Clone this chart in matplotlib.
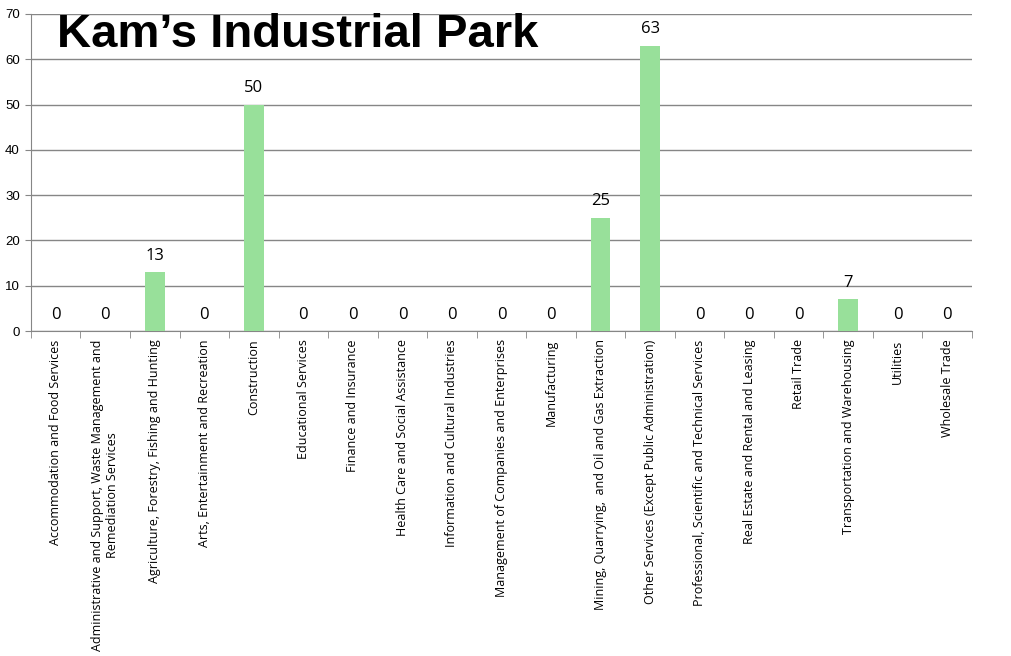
import numpy as np
import matplotlib.pyplot as plt


# Кількість підприємств за галузями
categories = [
    "Accommodation and Food Services",
    "Administrative and Support, Waste Management and\nRemediation Services",
    "Agriculture, Forestry, Fishing and Hunting",
    "Arts, Entertainment and Recreation",
    "Construction",
    "Educational Services",
    "Finance and Insurance",
    "Health Care and Social Assistance",
    "Information and Cultural Industries",
    "Management of Companies and Enterprises",
    "Manufacturing",
    "Mining, Quarrying,  and Oil and Gas Extraction",
    "Other Services (Except Public Administration)",
    "Professional, Scientific and Technical Services",
    "Real Estate and Rental and Leasing",
    "Retail Trade",
    "Transportation and Warehousing",
    "Utilities",
    "Wholesale Trade",
]
values = [0, 0, 13, 0, 50, 0, 0, 0, 0, 0, 0, 25, 63, 0, 0, 0, 7, 0, 0]
y_ticks = [0, 10, 20, 30, 40, 50, 60, 70]

grid_col = '#868686'
bar_col = '#98E09A'

fig = plt.figure(figsize=(10.12, 6.56), dpi=100)
ax = fig.add_axes([0.0306, 0.4954, 0.9299, 0.4833])

x = np.arange(len(categories))
ax.bar(x, values, width=0.4, color=bar_col, zorder=3)

for xi, v in zip(x, values):
    ax.annotate(str(v), (xi, v), xytext=(0, 6), textcoords='offset points',
                ha='center', va='bottom', fontsize=12, family='Open Sans')

ax.set_xlim(-0.5, len(categories) - 0.5)
ax.set_ylim(0, 70)
ax.set_yticks(y_ticks)
ax.set_yticklabels([str(t) for t in y_ticks], fontsize=9.5, family='Liberation Sans')
ax.yaxis.grid(True, color=grid_col, linewidth=1, zorder=0)
ax.tick_params(axis='y', length=4, color=grid_col, pad=4)

ax.set_xticks(x)
ax.set_xticklabels(categories, rotation=90, fontsize=9, family='Open Sans',
                   va='top', ha='center', multialignment='center')
ax.set_xticks(np.arange(len(categories) + 1) - 0.5, minor=True)
ax.tick_params(axis='x', which='major', length=0, pad=6)
ax.tick_params(axis='x', which='minor', length=5, color=grid_col)

for s in ['top', 'right']:
    ax.spines[s].set_visible(False)
for s in ['left', 'bottom']:
    ax.spines[s].set_color(grid_col)

fig.text(0.056, 0.929, 'Kam\u2019s Industrial Park', fontsize=34, fontweight='bold',
         family='Liberation Sans', ha='left', va='baseline')

fig.savefig('out.png', dpi=100)
